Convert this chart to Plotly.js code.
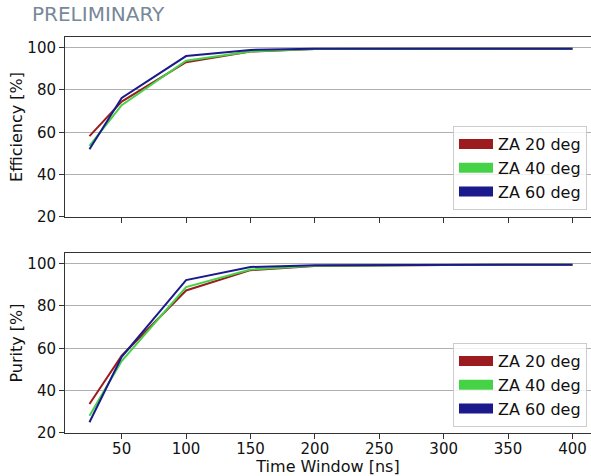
<!DOCTYPE html>
<html>
<head>
<meta charset="utf-8">
<script src="https://cdn.plot.ly/plotly-3.0.1.min.js"></script>
<style>html,body{margin:0;padding:0;background:#fff;}#chart{width:591px;height:476px;}</style>
</head>
<body>
<div id="chart"></div>
<script>
const timeWindow = [25, 50, 100, 150, 200, 250, 300, 350, 400];
const seriesNames = ["ZA 20 deg", "ZA 40 deg", "ZA 60 deg"];
const effZA20 = [58.2, 74.5, 93.1, 98.1, 99.3, 99.4, 99.5, 99.5, 99.5];
const effZA40 = [53.6, 72.8, 93.8, 98.2, 99.3, 99.4, 99.5, 99.5, 99.5];
const effZA60 = [52.0, 76.2, 96.0, 98.9, 99.4, 99.5, 99.5, 99.5, 99.5];
const purZA20 = [33.7, 56.5, 87.3, 96.9, 98.9, 99.3, 99.4, 99.5, 99.5];
const purZA40 = [28.2, 54.0, 88.9, 97.2, 99.0, 99.3, 99.4, 99.5, 99.5];
const purZA60 = [25.1, 56.0, 92.2, 98.4, 99.2, 99.4, 99.5, 99.5, 99.5];
const xTicks = [50, 100, 150, 200, 250, 300, 350, 400];
const yTicks = [20, 40, 60, 80, 100];
const colors = ["#9b1b1e", "#46d246", "#1a1a8c"];

const FONT = "DejaVu Sans";
const eff = [effZA20, effZA40, effZA60];
const pur = [purZA20, purZA40, purZA60];
const traces = [];
for (let i = 0; i < 3; i++) {
  traces.push({x: timeWindow, y: eff[i], type: "scatter", mode: "lines", xaxis: "x", yaxis: "y",
    line: {color: colors[i], width: 2}, showlegend: false, name: seriesNames[i]});
}
for (let i = 0; i < 3; i++) {
  traces.push({x: timeWindow, y: pur[i], type: "scatter", mode: "lines", xaxis: "x2", yaxis: "y2",
    line: {color: colors[i], width: 2}, showlegend: false, name: seriesNames[i]});
}
// legend-only entries (thick patch-like symbols)
for (let i = 0; i < 3; i++) {
  traces.push({x: [null], y: [null], type: "scatter", mode: "lines", xaxis: "x", yaxis: "y",
    line: {color: colors[i], width: 12}, name: seriesNames[i], legend: "legend", legendgroup: "a" + i});
}
for (let i = 0; i < 3; i++) {
  traces.push({x: [null], y: [null], type: "scatter", mode: "lines", xaxis: "x2", yaxis: "y2",
    line: {color: colors[i], width: 12}, name: seriesNames[i], legend: "legend2", legendgroup: "b" + i});
}

const xCommon = {
  range: [6.0, 414.4], tickvals: xTicks, ticks: "outside", ticklen: 5, tickwidth: 1, tickcolor: "#333",
  showline: true, linecolor: "#333", linewidth: 1, mirror: true, showgrid: false, zeroline: false,
  tickfont: {family: FONT, size: 15, color: "#111"}, ticklabelstandoff: -3
};
const yCommon = {
  range: [20, 105], tickvals: yTicks, ticks: "outside", ticklen: 5, tickwidth: 1, tickcolor: "#333",
  showline: true, linecolor: "#333", linewidth: 1, mirror: false, showgrid: true, gridcolor: "#b0b0b0",
  gridwidth: 1, zeroline: false, tickfont: {family: FONT, size: 15, color: "#111"}
};
const legendCommon = {
  xanchor: "right", yanchor: "bottom", x: 0.9924, bgcolor: "rgba(255,255,255,0.8)",
  bordercolor: "#cccccc", borderwidth: 1, font: {family: FONT, size: 16, color: "#111"},
  tracegroupgap: 0, itemwidth: 34
};

const layout = {
  width: 591, height: 476,
  margin: {l: 65, r: 0, t: 37, b: 43},
  paper_bgcolor: "#fff", plot_bgcolor: "#fff",
  font: {family: FONT, size: 15, color: "#111"},
  xaxis: Object.assign({}, xCommon, {anchor: "y", matches: "x2", showticklabels: false}),
  yaxis: Object.assign({}, yCommon, {domain: [0.5455, 1], anchor: "x",
    title: {text: "Efficiency [%]", font: {family: FONT, size: 16, color: "#111"}, standoff: 0}}),
  xaxis2: Object.assign({}, xCommon, {anchor: "y2",
    title: {text: "Time Window [ns]", font: {family: FONT, size: 16, color: "#111"}, standoff: 0}}),
  yaxis2: Object.assign({}, yCommon, {domain: [0, 0.4545], anchor: "x2",
    title: {text: "Purity [%]", font: {family: FONT, size: 16, color: "#111"}, standoff: 0}}),
  legend: Object.assign({}, legendCommon, {y: 0.563}),
  legend2: Object.assign({}, legendCommon, {y: 0.015}),
  annotations: [{
    text: "PRELIMINARY", xref: "paper", yref: "paper", x: -0.066, y: 1.058,
    xanchor: "left", yanchor: "middle", showarrow: false,
    font: {family: FONT, size: 20, color: "#778899"}
  }]
};

Plotly.newPlot("chart", traces, layout, {displayModeBar: false, staticPlot: true});
</script>
</body>
</html>
